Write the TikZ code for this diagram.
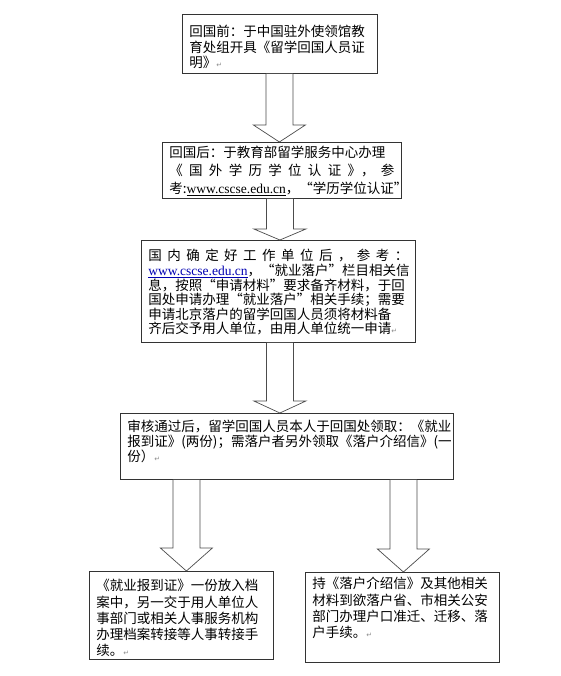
\documentclass[tikz,border=0pt]{standalone}
\usepackage{fontspec}
\newfontfamily\cjk{Noto Sans CJK SC}
\newfontfamily\latfont{Liberation Serif}
\newfontfamily\retfont{DejaVu Sans}
\usepackage{tikz}
\usetikzlibrary{calc}
\hfuzz=40pt
\hbadness=10000

% return mark, text box and block arrow
\newcommand{\ret}{{\retfont\color{black!45}\fontsize{7}{7}\selectfont ↵}}
\newcommand{\boxtxt}[4]{\parbox[c][#2pt][t]{#1pt}{\raggedright\vspace*{#3pt}#4}}
\newcommand{\bigarrow}[4]{%
  \draw[blockarrow] ($(#2.north |- #1.south)+(#4-13.5,0)$) -- ($(#2.north)+(#4-13.5,-#3)$)
    -- ($(#2.north)+(#4-26,-#3)$) -- ($(#2.north)+(#4,0)$) -- ($(#2.north)+(#4+26,-#3)$)
    -- ($(#2.north)+(#4+13.5,-#3)$) -- ($(#2.north |- #1.south)+(#4+13.5,0)$);}

\begin{document}
\begin{tikzpicture}[x=1pt, y=-1pt,
    box/.style={rectangle, draw=black!80, line width=0.8pt, anchor=north west, inner xsep=7pt, inner ysep=0pt},
    lines/.style={font=\fontsize{13.5}{#1}\selectfont\cjk},
    blockarrow/.style={draw=black!70, line width=0.7pt, fill=white},
    web/.style={}
]
\useasboundingbox (0,0) rectangle (561,676);

% Steps
\node[box, lines=15.5] (b1) at (182,14) {\boxtxt{181}{59}{11}{回国前：于中国驻外使领馆教\\育处组开具《留学回国人员证\\明》\ret}};
\node[box, lines=18] (b2) at (162,142) {\boxtxt{225}{56}{3.5}{回国后：于教育部留学服务中心办理\\
  \makebox[\linewidth][s]{《\hfill 国\hfill 外\hfill 学\hfill 历\hfill 学\hfill 位\hfill 认\hfill 证\hfill 》，\hfill 参}\\
  考:\underline{\latfont www.cscse.edu.cn}，“学历学位认证”}};
\node[box, lines=14.6] (b3) at (141,240) {\boxtxt{260}{102}{9}{%
  \makebox[\linewidth][s]{国\hfill 内\hfill 确\hfill 定\hfill 好\hfill 工\hfill 作\hfill 单\hfill 位\hfill 后\hfill ，\hfill 参\hfill 考\hfill ：}\\
  \textcolor{blue!70!black}{\underline{\latfont www.cscse.edu.cn}}，“就业落户”栏目相关信\\
  息，按照“申请材料”要求备齐材料，于回\\
  国处申请办理“就业落户”相关手续；需要\\
  申请北京落户的留学回国人员须将材料备\\
  齐后交予用人单位，由用人单位统一申请\ret}};
\node[box, lines=15] (b4) at (120,413) {\boxtxt{319}{66}{6.5}{审核通过后，留学回国人员本人于回国处领取：《就业\\报到证》(两份)；需落户者另外领取《落户介绍信》(一\\份）\ret}};
\node[box, lines=16.2] (b5) at (89,571) {\boxtxt{170}{88}{8}{《就业报到证》一份放入档\\案中，另一交于用人单位人\\事部门或相关人事服务机构\\办理档案转接等人事转接手\\续。\ret}};
\node[box, lines=16.3] (b6) at (305,572) {\boxtxt{180}{90}{5}{持《落户介绍信》及其他相关\\材料到欲落户省、市相关公安\\部门办理户口准迁、迁移、落\\户手续。\ret}};

% Arrows
\bigarrow{b1}{b2}{17}{-2.5}
\bigarrow{b2}{b3}{11}{1.5}
\bigarrow{b3}{b4}{12}{-7}
\bigarrow{b4}{b5}{23}{5}
\bigarrow{b4}{b6}{23}{1}

\end{tikzpicture}
\end{document}
